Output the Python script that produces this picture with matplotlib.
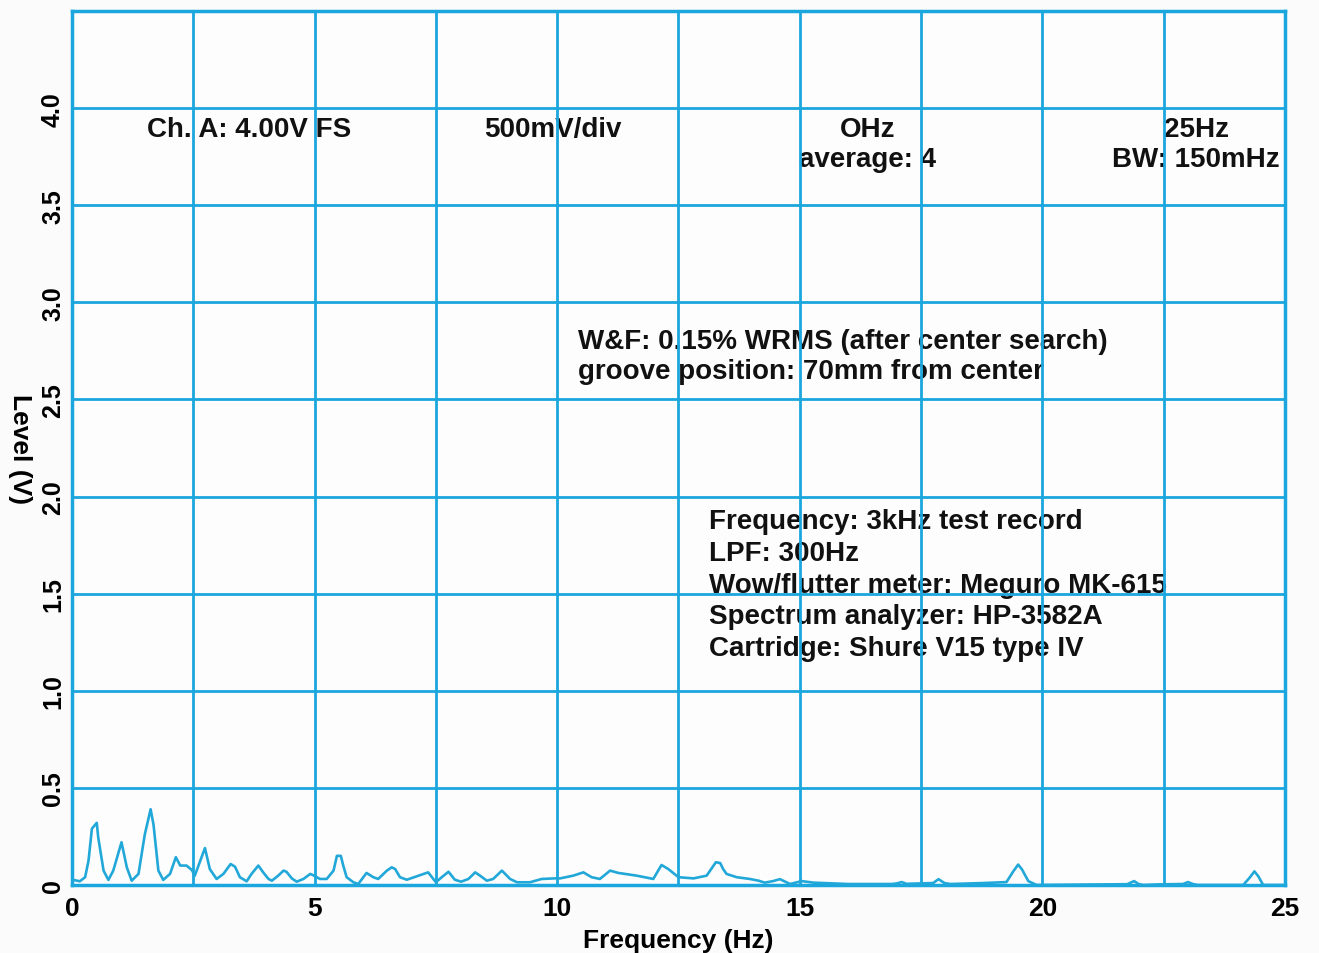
import numpy as np
import matplotlib
matplotlib.use('Agg')
import matplotlib.pyplot as plt

# wow & flutter spectrum
freq_hz = [0.0, 0.03, 0.16, 0.27, 0.34, 0.41, 0.51, 0.54, 0.65, 0.75, 0.85, 1.02, 1.13,
           1.23, 1.37, 1.50, 1.62, 1.68, 1.78, 1.88, 2.02, 2.14, 2.23, 2.36, 2.47,
           2.53, 2.74, 2.84, 2.98, 3.12, 3.27, 3.36, 3.46, 3.60, 3.70, 3.84, 3.94,
           4.05, 4.12, 4.25, 4.36, 4.42, 4.53, 4.63, 4.77, 4.91, 4.99, 5.11, 5.25,
           5.39, 5.46, 5.54, 5.59, 5.66, 5.80, 5.90, 6.07, 6.21, 6.31, 6.49, 6.59,
           6.66, 6.76, 6.90, 7.34, 7.50, 7.62, 7.76, 7.89, 8.02, 8.17, 8.31, 8.41,
           8.55, 8.68, 8.86, 9.03, 9.17, 9.44, 9.68, 9.95, 10.06, 10.33, 10.54,
           10.71, 10.88, 11.09, 11.26, 11.64, 11.98, 12.15, 12.29, 12.50, 12.81,
           13.08, 13.27, 13.36, 13.42, 13.49, 13.70, 13.97, 14.15, 14.28, 14.45,
           14.59, 14.80, 15.04, 15.28, 16.0, 16.9, 17.0, 17.1, 17.2, 17.48, 17.75,
           17.86, 17.98, 18.1, 18.78, 19.26, 19.40, 19.50, 19.58, 19.71, 19.88,
           21.75, 21.89, 21.98, 22.08, 22.4, 22.9, 23.0, 23.1, 23.2, 24.14, 24.28,
           24.37, 24.45, 24.55, 25.0]
level_v = [0.025, 0.026, 0.019, 0.04, 0.125, 0.29, 0.32, 0.245, 0.074, 0.026, 0.074,
           0.22, 0.09, 0.022, 0.057, 0.26, 0.39, 0.31, 0.074, 0.026, 0.057, 0.143,
           0.10, 0.10, 0.077, 0.048, 0.19, 0.082, 0.031, 0.057, 0.108, 0.094, 0.04,
           0.019, 0.057, 0.10, 0.065, 0.031, 0.022, 0.048, 0.074, 0.068, 0.034,
           0.017, 0.031, 0.057, 0.048, 0.031, 0.031, 0.074, 0.15, 0.15, 0.10, 0.04,
           0.014, 0.005, 0.062, 0.04, 0.031, 0.074, 0.091, 0.082, 0.04, 0.027,
           0.065, 0.014, 0.04, 0.068, 0.027, 0.017, 0.031, 0.065, 0.048, 0.022,
           0.031, 0.074, 0.031, 0.014, 0.014, 0.031, 0.034, 0.034, 0.048, 0.065,
           0.04, 0.031, 0.074, 0.062, 0.048, 0.031, 0.103, 0.082, 0.04, 0.034,
           0.048, 0.117, 0.113, 0.082, 0.057, 0.04, 0.031, 0.022, 0.012, 0.02,
           0.03, 0.005, 0.02, 0.012, 0.005, 0.005, 0.008, 0.015, 0.006, 0.008,
           0.01, 0.03, 0.01, 0.005, 0.01, 0.015, 0.07, 0.105, 0.08, 0.02, 0.0,
           0.004, 0.02, 0.005, 0.0, 0.003, 0.005, 0.015, 0.005, 0.0, 0.0, 0.04,
           0.07, 0.045, 0.0, 0.0]

y_ticks = [0, 0.5, 1.0, 1.5, 2.0, 2.5, 3.0, 3.5, 4.0]
y_labels = ['0', '0.5', '1.0', '1.5', '2.0', '2.5', '3.0', '3.5', '4.0']

info_lines = ['Frequency: 3kHz test record', 'LPF: 300Hz',
              'Wow/flutter meter: Meguro MK-615', 'Spectrum analyzer: HP-3582A',
              'Cartridge: Shure V15 type IV']

BLUE = '#1ba6dd'
plt.rcParams['font.family'] = ['Liberation Sans', 'DejaVu Sans']
plt.rcParams['font.weight'] = 'bold'

fig = plt.figure(figsize=(13.19, 9.54), dpi=100)
fig.patch.set_facecolor('#fbfbfc')
ax = fig.add_axes([0.0546, 0.0713, 0.9196, 0.9161])
ax.set_facecolor('#fdfdfe')

ax.plot(freq_hz, level_v, color='#22a8d8', lw=1.9, zorder=4)

ax.set_xlim(0, 25)
ax.set_ylim(0, 4.5)
ax.set_axisbelow(False)
ax.grid(True, color=BLUE, lw=2.0, zorder=3)
for s in ax.spines.values():
    s.set_color(BLUE); s.set_linewidth(2.5)
ax.tick_params(length=0)

# labels only every 5 Hz; grid every 2.5 Hz
xt = np.arange(0, 25.1, 2.5)
ax.set_xticks(xt)
ax.set_xticklabels(['' if (v % 5) else str(int(v)) for v in xt],
                   fontsize=19, fontweight='bold')
ax.set_yticks(y_ticks)
ax.set_yticklabels(y_labels, rotation=90, va='center', fontsize=18, fontweight='bold')
ax.tick_params(axis='x', pad=8)
ax.tick_params(axis='y', pad=5)
ax.set_xlabel('Frequency (Hz)', fontsize=19, fontweight='bold', labelpad=6)
ax.set_ylabel('Level (V)', fontsize=19, fontweight='bold', rotation=270, labelpad=24)

kw = dict(fontsize=20, fontweight='bold', color='#111111', zorder=2)
ax.text(1.55, 3.895, 'Ch. A: 4.00V FS', ha='left', va='center', **kw)
ax.text(9.91, 3.895, '500mV/div', ha='center', va='center', **kw)
ax.text(16.4, 3.895, 'OHz', ha='center', va='center', **kw)
ax.text(16.4, 3.74, 'average: 4', ha='center', va='center', **kw)
ax.text(23.17, 3.895, '25Hz', ha='center', va='center', **kw)
ax.text(23.17, 3.74, 'BW: 150mHz', ha='center', va='center', **kw)
ax.text(10.43, 2.80, 'W&F: 0.15% WRMS (after center search)', ha='left', va='center', **kw)
ax.text(10.43, 2.645, 'groove position: 70mm from center', ha='left', va='center', **kw)
for i, line in enumerate(info_lines):
    ax.text(13.13, 1.875 - i * 0.164, line, ha='left', va='center', **kw)

fig.savefig('out.png', dpi=100)
